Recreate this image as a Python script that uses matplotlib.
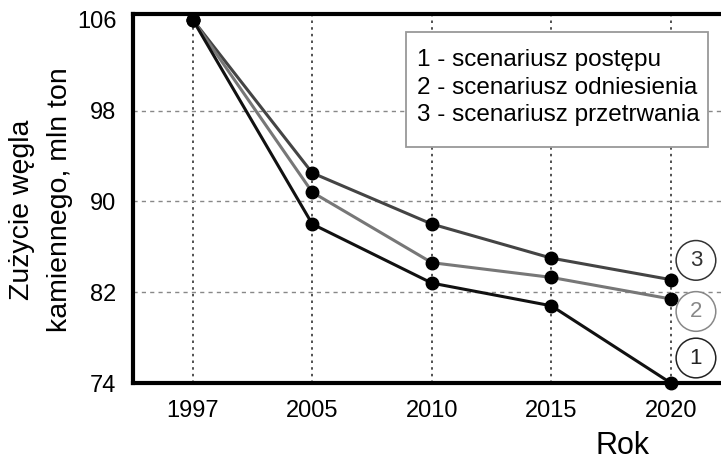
import matplotlib
matplotlib.use("Agg")
import matplotlib.pyplot as plt
from matplotlib.patches import Rectangle

years = ["1997", "2005", "2010", "2015", "2020"]
s1 = [106, 88.0, 82.8, 80.8, 74.0]   # scenariusz postępu
s2 = [106, 90.8, 84.6, 83.3, 81.4]   # scenariusz odniesienia
s3 = [106, 92.5, 88.0, 85.0, 83.1]   # scenariusz przetrwania
yticks = [74, 82, 90, 98, 106]
legend_lines = ["1 - scenariusz postępu", "2 - scenariusz odniesienia", "3 - scenariusz przetrwania"]

plt.rcParams['font.family'] = ['Liberation Sans', 'DejaVu Sans']

W, H = 721, 465
fig = plt.figure(figsize=(W / 100, H / 100), dpi=100)
ax = fig.add_axes([133 / W, 1 - 383 / H, 1 - 133 / W + 0.01, (383 - 14) / H])

x = list(range(len(years)))
for xi in x:
    ax.axvline(xi, color="#333333", lw=1.2, ls=(0, (1.5, 2.5)), zorder=1)
for yv in yticks[1:-1]:
    ax.axhline(yv, color="#888888", lw=1.0, ls=(0, (3, 3)), zorder=1)

ax.plot(x, s3, color="#444444", lw=2.2, marker="o", ms=9, mfc="black", mec="black", zorder=3, clip_on=False)
ax.plot(x, s2, color="#777777", lw=2.2, marker="o", ms=9, mfc="black", mec="black", zorder=3, clip_on=False)
ax.plot(x, s1, color="#111111", lw=2.2, marker="o", ms=9, mfc="black", mec="black", zorder=4, clip_on=False)

ax.set_xlim(-0.5, 4.48)
ax.set_ylim(74, 106.5)
ax.set_xticks(x)
ax.set_xticklabels(years, fontsize=17)
ax.set_yticks(yticks)
ax.set_yticklabels([str(v) for v in yticks], fontsize=17)
ax.tick_params(axis="y", length=0, pad=12)
ax.tick_params(axis="x", length=0, pad=12)

for side in ["left", "bottom", "top"]:
    ax.spines[side].set_linewidth(3)
    ax.spines[side].set_color("black")
ax.spines["right"].set_visible(False)

# circled labels
labels = [("3", 84.8, "#333333"), ("2", 80.3, "#888888"), ("1", 76.2, "#222222")]
for t, yv, c in labels:
    ax.text(4.21, yv, t, fontsize=16, color=c, ha="center", va="center",
            bbox=dict(boxstyle="circle,pad=0.42", fc="white", ec=c, lw=1.1), zorder=5)

# legend box
fig.patches.append(Rectangle((406 / W, 1 - 147 / H), (708 - 406) / W, (147 - 32) / H,
                             transform=fig.transFigure, fc="white", ec="#999999", lw=1.3, zorder=6))
for i, line in enumerate(legend_lines):
    fig.text(417 / W, 1 - (60 + 27.5 * i) / H, line, fontsize=17.5, ha="left", va="center", zorder=7)

fig.text(22 / W, 1 - 210 / H, "Zużycie węgla", rotation=90, fontsize=20.5, ha="center", va="center")
fig.text(60 / W, 1 - 200 / H, "kamiennego, mln ton", rotation=90, fontsize=20.5, ha="center", va="center")
fig.text(623 / W, 1 - 454 / H, "Rok", fontsize=22, ha="center", va="baseline")

fig.savefig("out.png", dpi=100)
